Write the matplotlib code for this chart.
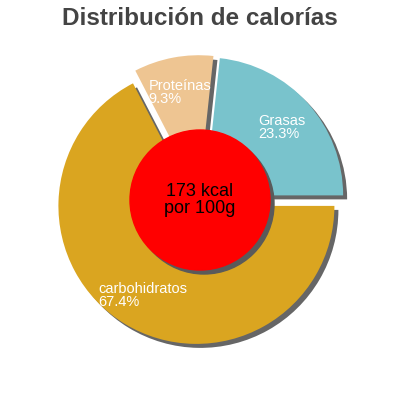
import numpy as np
import matplotlib.pyplot as plt
from matplotlib.patches import Circle

plt.rcParams['font.family'] = ['Liberation Sans', 'DejaVu Sans']

labels = ['Grasas', 'Proteínas', 'carbohidratos']
values = [23.3, 9.3, 67.4]
colors = ['#79c3cc', '#eec592', '#daa520']
center_text = '173 kcal\npor 100g'
title = 'Distribución de calorías'

R_px = 138.0
lim = 200 / R_px
sh = 4 / R_px      # shadow offset
expl = [0.05, 0.05, 0.05]

fig = plt.figure(figsize=(4, 4), dpi=100)
ax = fig.add_axes([0, 0, 1, 1])

# shadows
ax.pie(values, colors=['#666666'] * 3, startangle=0, counterclock=True,
       explode=expl, center=(sh, -sh), radius=1, frame=True)
wedges, _ = ax.pie(values, colors=colors, startangle=0, counterclock=True,
                   explode=expl, center=(0, 0), radius=1, frame=True)
ax.set_xlim(-lim, lim)
ax.set_ylim(-lim, lim)
ax.set_aspect('equal')
ax.axis('off')

for w, lab, v in zip(wedges, labels, values):
    tm = np.deg2rad((w.theta1 + w.theta2) / 2)
    cx, cy = w.center
    ax.text(cx + 0.75 * np.cos(tm), cy + 0.75 * np.sin(tm) - 0.01,
            f'{lab}\n{v}%', ha='center', va='center', multialignment='left',
            color='white', fontsize=10.5, linespacing=0.9)

r_in = 70 / R_px
ax.add_patch(Circle((sh, -sh), r_in, color='#5a5a5a', zorder=3))
ax.add_patch(Circle((0, 0), r_in, color='#ff0000', zorder=4))
ax.text(0, 0, center_text, ha='center', va='center', fontsize=13,
        color='black', zorder=5, linespacing=1.0)

fig.text(0.5, 0.953, title, ha='center', va='center', fontsize=17.5,
         fontweight='bold', color='#444444')

fig.savefig('out.png', dpi=100, facecolor='white')
